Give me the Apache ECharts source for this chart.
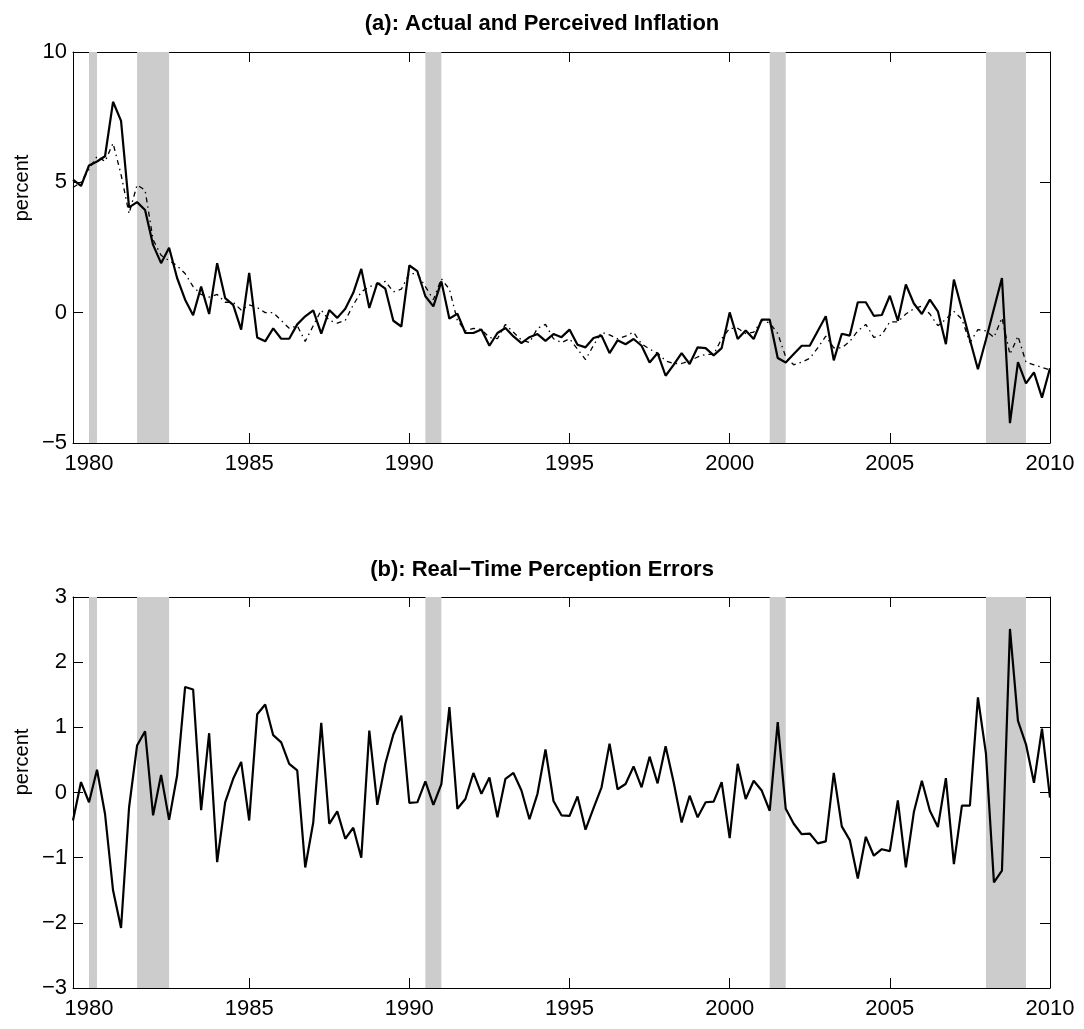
<!DOCTYPE html>
<html lang="en">
  <head>
    <meta charset="UTF-8" />
    <title>Actual and Perceived Inflation</title>
    <script src="https://cdn.jsdelivr.net/npm/echarts@6.0.0/dist/echarts.min.js"></script>
    <style>
      html,
      body {
        margin: 0;
        padding: 0;
        background: #fff;
      }
      #chart {
        width: 1084px;
        height: 1029px;
      }
    </style>
  </head>
  <body>
    <div id="chart"></div>
    <script>
      // quarterly, 1979Q3 .. 2010Q1
      const startYear = 1979.5;
      const yearTicks = [1980, 1985, 1990, 1995, 2000, 2005, 2010];
      const recessions = [
        [1980, 1980.25],
        [1981.5, 1982.5],
        [1990.5, 1991],
        [2001.25, 2001.75],
        [2008, 2009.25],
      ];

      const actual = [
        5.1, 4.86, 5.65, 5.8, 6.0, 8.09, 7.36, 4.04, 4.24, 3.94, 2.6, 1.9, 2.49,
        1.33, 0.5, -0.1, 1.0, -0.05, 1.9, 0.56, 0.3, -0.65, 1.53, -0.95, -1.1,
        -0.6, -1.0, -1.0, -0.45, -0.14, 0.09, -0.8, 0.1, -0.2, 0.15, 0.76, 1.68,
        0.18, 1.14, 0.92, -0.31, -0.53, 1.81, 1.59, 0.63, 0.24, 1.2, -0.23,
        -0.04, -0.78, -0.78, -0.65, -1.27, -0.78, -0.59, -0.91, -1.17, -0.94,
        -0.82, -1.08, -0.82, -0.94, -0.65, -1.23, -1.33, -0.97, -0.88, -1.55,
        -1.06, -1.21, -1.01, -1.27, -1.91, -1.55, -2.42, -2.0, -1.55, -1.97,
        -1.33, -1.36, -1.64, -1.36, 0.01, -1.01, -0.68, -1.01, -0.27, -0.27,
        -1.74, -1.91, -1.59, -1.27, -1.27, -0.7, -0.14, -1.83, -0.81, -0.88, 0.4,
        0.4, -0.12, -0.09, 0.65, -0.31, 1.08, 0.35, -0.05, 0.5, 0.05, -1.21,
        1.27, 0.12, -1.04, -2.17, -1.04, 0.15, 1.33, -4.24, -1.9, -2.71, -2.29,
        -3.26, -2.13,
      ];

      const perceived = [
        4.8, 5.0, 5.5, 6.0, 5.8, 6.5, 5.3, 3.8, 4.9, 4.7, 2.8, 2.2, 2.0, 1.8,
        1.5, 1.0, 0.7, 0.6, 0.7, 0.4, 0.4, 0.1, 0.3, 0.2, 0.0, 0.0, -0.3, -0.6,
        -0.5, -1.1, -0.5, 0.1, -0.3, -0.4, -0.3, 0.3, 0.8, 1.0, 1.1, 1.2, 0.8,
        0.9, 1.5, 1.5, 1.0, 0.5, 1.3, 0.9, -0.3, -0.7, -0.6, -0.65, -0.95, -1.0,
        -0.45, -0.75, -1.05, -1.15, -0.6, -0.45, -1.0, -1.15, -1.0, -1.4, -1.8,
        -1.25, -0.75, -0.85, -1.0, -0.9, -0.75, -1.2, -1.4, -1.55, -1.85, -1.95,
        -1.95, -1.85, -1.7, -1.6, -1.6, -1.0, -0.6, -0.6, -0.8, -0.75, -0.3,
        -0.4, -0.8, -1.7, -2.0, -1.9, -1.75, -1.35, -0.9, -1.35, -1.35, -1.1,
        -0.7, -0.45, -0.95, -0.85, -0.35, -0.35, -0.05, 0.15, 0.25, -0.05, -0.5,
        -0.25, 0.05, -0.25, -1.15, -0.65, -0.7, -0.95, -0.2, -1.6, -0.9, -1.9,
        -2.0, -2.1, -2.2,
      ];

      const errors = [
        -0.43, 0.16, -0.15, 0.35, -0.33, -1.5, -2.08, -0.23, 0.72, 0.94, -0.35,
        0.27, -0.42, 0.26, 1.62, 1.58, -0.27, 0.91, -1.07, -0.15, 0.21, 0.47,
        -0.43, 1.2, 1.35, 0.88, 0.77, 0.44, 0.34, -1.15, -0.46, 1.07, -0.48,
        -0.29, -0.71, -0.54, -1.0, 0.95, -0.19, 0.44, 0.89, 1.18, -0.16, -0.15,
        0.17, -0.19, 0.13, 1.31, -0.25, -0.1, 0.3, -0.02, 0.23, -0.38, 0.21, 0.3,
        0.03, -0.41, -0.02, 0.66, -0.13, -0.35, -0.36, -0.06, -0.57, -0.24, 0.08,
        0.75, 0.05, 0.13, 0.4, 0.08, 0.55, 0.14, 0.71, 0.16, -0.46, -0.05, -0.38,
        -0.15, -0.14, 0.16, -0.7, 0.44, -0.1, 0.18, 0.03, -0.28, 1.08, -0.25,
        -0.48, -0.64, -0.63, -0.78, -0.75, 0.3, -0.52, -0.73, -1.32, -0.68,
        -0.97, -0.87, -0.9, -0.12, -1.15, -0.3, 0.18, -0.28, -0.53, 0.22, -1.1,
        -0.2, -0.2, 1.46, 0.6, -1.38, -1.2, 2.51, 1.1, 0.74, 0.15, 0.98, -0.08,
      ];

      const quarters = actual.map((_, i) => startYear + i * 0.25);
      const pairs = (vals) => vals.map((v, i) => [quarters[i], v]);

      const FONT = "Liberation Sans, Arial, Helvetica, sans-serif";
      const minus = (v) => String(v).replace("-", "\u2212");

      const bands = recessions.map((r) => [{ xAxis: r[0] }, { xAxis: r[1] }]);

      function xAxes(gridIndex) {
        const base = {
          type: "value",
          gridIndex: gridIndex,
          min: startYear,
          max: 2010,
          splitLine: { show: false },
          axisLine: { show: true, onZero: false, lineStyle: { color: "#000", width: 1 } },
          axisTick: {
            show: true,
            inside: true,
            length: 10,
            customValues: yearTicks,
            lineStyle: { color: "#000" },
          },
        };
        return [
          Object.assign({}, base, {
            position: "bottom",
            axisLabel: {
              customValues: yearTicks,
              formatter: (v) => String(v),
              color: "#000",
              fontFamily: FONT,
              fontSize: 22,
              margin: 10,
            },
          }),
          Object.assign({}, base, { position: "top", axisLabel: { show: false } }),
        ];
      }

      function yAxes(gridIndex, min, max, interval) {
        const base = {
          type: "value",
          gridIndex: gridIndex,
          min: min,
          max: max,
          interval: interval,
          splitLine: { show: false },
          axisLine: { show: true, lineStyle: { color: "#000", width: 1 } },
          axisTick: { show: true, inside: true, length: 10, lineStyle: { color: "#000" } },
        };
        return [
          Object.assign({}, base, {
            position: "left",
            axisLabel: {
              color: "#000",
              fontFamily: FONT,
              fontSize: 22,
              margin: 6,
              formatter: minus,
            },
          }),
          Object.assign({}, base, { position: "right", axisLabel: { show: false } }),
        ];
      }

      // y-axis titles, placed as in the original figure
      function yTitle(y) {
        return {
          type: "text",
          x: 22,
          y: y,
          rotation: Math.PI / 2,
          style: {
            text: "percent",
            align: "center",
            verticalAlign: "middle",
            fontFamily: FONT,
            fontSize: 20,
            fill: "#000",
          },
        };
      }

      const chart = echarts.init(document.getElementById("chart"));

      const option = {
        animation: false,
        backgroundColor: "#fff",
        title: [
          {
            text: "(a): Actual and Perceived Inflation",
            left: "center",
            top: 8,
            textStyle: { fontFamily: FONT, fontSize: 22, fontWeight: "bold", color: "#000" },
          },
          {
            text: "(b): Real\u2212Time Perception Errors",
            left: "center",
            top: 554,
            textStyle: { fontFamily: FONT, fontSize: 22, fontWeight: "bold", color: "#000" },
          },
        ],
        graphic: [yTitle(188), yTitle(762)],
        grid: [
          { left: 73, top: 52, width: 977, height: 391 },
          { left: 73, top: 597, width: 977, height: 391 },
        ],
        xAxis: [...xAxes(0), ...xAxes(1)],
        yAxis: [...yAxes(0, -5, 10, 5), ...yAxes(1, -3, 3, 1)],
        series: [
          {
            name: "recessions a",
            type: "line",
            xAxisIndex: 0,
            yAxisIndex: 0,
            data: [],
            z: 1,
            markArea: { silent: true, itemStyle: { color: "#cccccc" }, data: bands },
          },
          {
            name: "Perceived",
            type: "line",
            xAxisIndex: 0,
            yAxisIndex: 0,
            data: pairs(perceived),
            showSymbol: false,
            z: 3,
            lineStyle: { color: "#000", width: 1.3, type: [5, 4, 1.5, 4] },
          },
          {
            name: "Actual",
            type: "line",
            xAxisIndex: 0,
            yAxisIndex: 0,
            data: pairs(actual),
            showSymbol: false,
            z: 4,
            lineStyle: { color: "#000", width: 2.2 },
          },
          {
            name: "recessions b",
            type: "line",
            xAxisIndex: 2,
            yAxisIndex: 2,
            data: [],
            z: 1,
            markArea: { silent: true, itemStyle: { color: "#cccccc" }, data: bands },
          },
          {
            name: "Errors",
            type: "line",
            xAxisIndex: 2,
            yAxisIndex: 2,
            data: pairs(errors),
            showSymbol: false,
            z: 4,
            lineStyle: { color: "#000", width: 2.2 },
          },
        ],
      };

      chart.setOption(option);
    </script>
  </body>
</html>
